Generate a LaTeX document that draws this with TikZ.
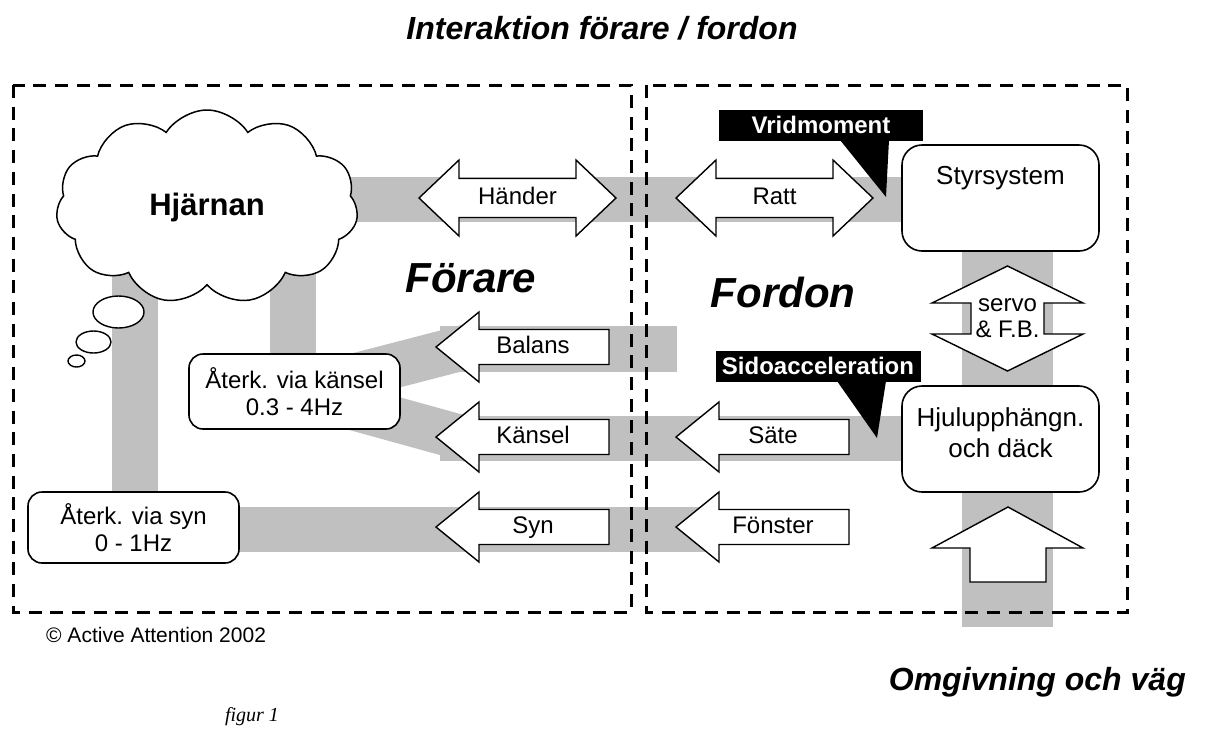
\documentclass[tikz,border=0pt]{standalone}
\usepackage{fontspec}
\setmainfont{Liberation Sans}
\newfontfamily\figfont{Liberation Serif}
\usetikzlibrary{shapes.symbols,shapes.geometric}
\definecolor{bandgray}{RGB}{192,192,192}
\newcommand\myfs[2]{\fontsize{#1}{#2}\selectfont}
\newcommand\LArrow[4]{% name, tip x, center y, text
  \draw[ashape] (#2,#3) -- ++(43,-35) -- ++(0,17.5) -- ++(130,0) -- ++(0,35) -- ++(-130,0) -- ++(0,17.5) -- cycle;
  \node[atext] (#1) at (#2+97,#3) {#4};}
\newcommand\HDArrow[4]{% name, left tip x, center y, text
  \draw[ashape] (#2,#3) -- ++(40,-38) -- ++(0,18.5) -- ++(117,0) -- ++(0,-18.5) -- ++(40,38)
     -- ++(-40,38) -- ++(0,-18.5) -- ++(-117,0) -- ++(0,18.5) -- cycle;
  \node[atext] (#1) at (#2+98.5,#3) {#4};}
\begin{document}
\begin{tikzpicture}[x=1pt,y=-1pt,
  band/.style={draw=bandgray,line width=#1,line cap=butt},
  band/.default=45,
  dashframe/.style={draw=black,line width=3,dash pattern=on 13pt off 8.7pt},
  ashape/.style={draw=black,fill=white,line width=1.4,line join=miter},
  atext/.style={font=\myfs{24}{26},inner sep=0,text height=17,text depth=5},
  rbox/.style={draw=black,fill=white,line width=1.6,rounded corners=14,inner sep=0,align=center},
  callout/.style={fill=black},
  ctext/.style={text=white,font=\myfs{24}{28}\bfseries,inner sep=0},
  bubble/.style={ellipse,draw=black,fill=white,line width=1.4,inner sep=0},
  big/.style={font=\myfs{42}{48}\bfseries\itshape,inner sep=0},
  heading/.style={font=\myfs{32}{38}\bfseries\itshape,inner sep=0}
]
\useasboundingbox (0,0) rectangle (1210,729);

% ---------- coordinates for the grey bands ----------
\coordinate (akc) at (294.5,391.5);
\coordinate (topA) at (300,199.5);   \coordinate (topB) at (910,199.5);
\coordinate (balA) at (440,349);     \coordinate (balB) at (677,349);
\coordinate (kanA) at (440,438.5);   \coordinate (kanB) at (910,438.5);
\coordinate (synA) at (235,529.5);   \coordinate (synB) at (712,529.5);
\coordinate (v1A) at (135,250);      \coordinate (v1B) at (135,500);
\coordinate (v2A) at (293,199);      \coordinate (v2B) at (293,365);
\coordinate (rA) at (1007.5,245);    \coordinate (rB) at (1007.5,627);
\coordinate (dBal) at (470,346);     \coordinate (dKan) at (470,440);

% ---------- grey bands ----------
\draw[band] (topA) -- (topB);
\draw[band=46] (balA) -- (balB);
\draw[band] (kanA) -- (kanB);
\draw[band] (synA) -- (synB);
\draw[band=46] (v1A) -- (v1B);
\draw[band=46] (v2A) -- (v2B);
\draw[band=91] (rA) -- (rB);
\draw[band] (akc) -- (dBal);
\draw[band] (akc) -- (dKan);

% ---------- dashed frames ----------
\draw[dashframe] (13,85) rectangle (631,612);
\draw[dashframe] (646,85) rectangle (1127,612);

% ---------- brain cloud and thought bubbles ----------
\node[cloud,draw=black,fill=white,line width=1.5,cloud puffs=11,cloud puff arc=115,
      cloud ignores aspect,minimum width=302,minimum height=194,inner sep=0,
      font=\myfs{31}{36}\bfseries] (brain) at (207,207) {Hjärnan};
\node[bubble,minimum width=51,minimum height=32] (tb1) at (118.5,312) {};
\node[bubble,minimum width=35,minimum height=22] (tb2) at (93.5,342) {};
\node[bubble,minimum width=17,minimum height=12] (tb3) at (76.5,361) {};

% ---------- rounded boxes ----------
\node[rbox,minimum width=211,minimum height=75,font=\myfs{24}{27}] (akansel) at (akc) {Återk. via känsel\\0.3 - 4Hz};
\node[rbox,minimum width=211,minimum height=71,font=\myfs{24}{27}] (asyn) at (133.5,527.5) {Återk. via syn\\0 - 1Hz};
\node[rbox,rounded corners=20,minimum width=197,minimum height=106,font=\myfs{26}{31},
      text height=19,text depth=47] (styr) at (1000.5,198) {Styrsystem};
\node[rbox,rounded corners=20,minimum width=197,minimum height=106,font=\myfs{26}{31},
      text depth=13] (hjul) at (1000.5,439) {Hjulupphängn.\\och däck};

% ---------- block arrows ----------
\HDArrow{hander}{419}{198}{Händer}
\HDArrow{ratt}{676}{198}{Ratt}
\LArrow{balans}{436}{347}{Balans}
\LArrow{kansel}{436}{437}{Känsel}
\LArrow{syn}{436}{527}{Syn}
\LArrow{sate}{676}{437}{Säte}
\LArrow{fonster}{676}{527}{Fönster}
\draw[ashape] (1007.5,266) -- (1083,303) -- (1044,303) -- (1044,334) -- (1083,334)
   -- (1007.5,371) -- (932,334) -- (971,334) -- (971,303) -- (932,303) -- cycle;
\node[font=\myfs{24}{26},inner sep=0,align=center] (servo) at (1007.5,318) {servo\\\& F.B.};
\draw[ashape] (1008,507) -- (1083,548) -- (1046,548) -- (1046,582) -- (970,582)
   -- (970,548) -- (932,548) -- cycle;
\coordinate (upArrow) at (1008,548);

% ---------- callouts ----------
\fill[callout] (719,110) rectangle (923,141);
\fill[callout] (840,140) -- (889,140) -- (886,197) -- cycle;
\node[ctext] (vrid) at (821,125) {Vridmoment};
\fill[callout] (716,351) rectangle (921,382);
\fill[callout] (837,381) -- (886,381) -- (877,438) -- cycle;
\node[ctext] (sido) at (818,366) {Sidoacceleration};

% ---------- titles and texts ----------
\node[heading] (title) at (602,28) {Interaktion förare / fordon};
\node[big,anchor=base] (forare) at (471,292) {Förare};
\node[big,anchor=base] (fordon) at (783,307) {Fordon};
\node[heading,anchor=base east] (omg) at (1186,690) {Omgivning och väg};
\node[font=\myfs{21}{25},inner sep=0,anchor=base west] (copy) at (46,642) {© Active Attention 2002};
\node[font=\figfont\itshape\myfs{20}{24},inner sep=0,anchor=base] (fig) at (252,721) {figur 1};
\end{tikzpicture}
\end{document}
